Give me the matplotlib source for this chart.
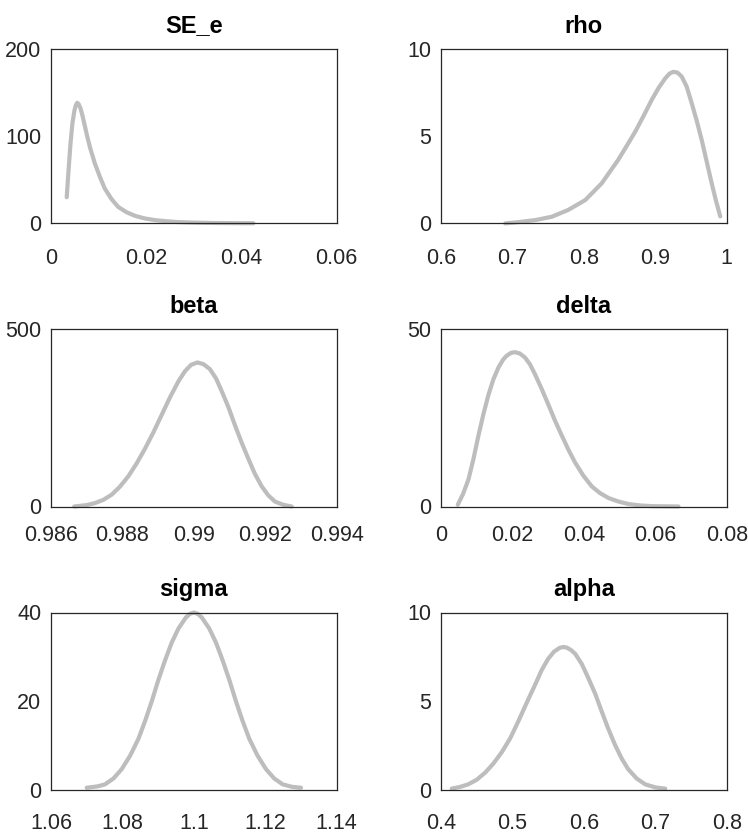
import matplotlib
matplotlib.use("Agg")
import matplotlib.pyplot as plt
from matplotlib import font_manager

# Pick a condensed sans face if one is installed
available = {f.name for f in font_manager.fontManager.ttflist}
family = [f for f in ["Liberation Sans Narrow", "Liberation Sans", "DejaVu Sans"] if f in available]
plt.rcParams["font.family"] = family

# ---- prior densities (x, density) ----
se_e_x = [0.0033, 0.0037, 0.0041, 0.0045, 0.0049, 0.0052, 0.0055, 0.0058, 0.0062, 0.0066,
          0.0071, 0.0076, 0.0082, 0.0092, 0.0103, 0.0113, 0.0127, 0.0141, 0.0158, 0.0176,
          0.0196, 0.0218, 0.0242, 0.0267, 0.0300, 0.0337, 0.0380, 0.0425]
se_e_y = [30.0, 62.0, 92.0, 115.0, 129.0, 135.5, 138.5, 137.0, 132.0, 124.0,
          112.0, 100.0, 87.0, 69.0, 53.0, 40.0, 28.0, 19.0, 13.0, 8.8,
          5.8, 3.8, 2.5, 1.5, 0.9, 0.5, 0.3, 0.2]

rho_x = [0.690, 0.710, 0.732, 0.755, 0.778, 0.802, 0.825, 0.848, 0.860, 0.872,
         0.884, 0.895, 0.905, 0.914, 0.920, 0.925, 0.931, 0.937, 0.944, 0.951,
         0.958, 0.965, 0.972, 0.979, 0.985, 0.991]
rho_y = [0.00, 0.08, 0.19, 0.38, 0.77, 1.34, 2.30, 3.64, 4.45, 5.27,
         6.20, 7.09, 7.80, 8.33, 8.60, 8.70, 8.66, 8.43, 7.85, 6.90,
         5.90, 4.79, 3.55, 2.30, 1.30, 0.40]

beta_x = [0.98665, 0.98700, 0.98723, 0.98747, 0.98770, 0.98793, 0.98817, 0.98840, 0.98863,
          0.98887, 0.98910, 0.98933, 0.98957, 0.98975, 0.98992, 0.99010, 0.99027, 0.99045,
          0.99062, 0.99078, 0.99097, 0.99115, 0.99134, 0.99153, 0.99171, 0.99190, 0.99208,
          0.99227, 0.99250, 0.99274]
beta_y = [0.0, 4.0, 9.6, 19.0, 33.5, 56.0, 86.0, 122.0, 163.0,
          210.0, 259.0, 308.0, 354.0, 382.0, 400.0, 407.0, 402.0, 388.0,
          362.0, 326.0, 280.0, 230.0, 180.0, 134.0, 92.0, 57.0, 32.0,
          14.0, 5.0, 0.0]

delta_x = [0.0047, 0.0062, 0.0077, 0.0091, 0.0105, 0.0119, 0.0133, 0.0147, 0.0161, 0.0174,
           0.0184, 0.0196, 0.0207, 0.0221, 0.0235, 0.0249, 0.0263, 0.0282, 0.0301, 0.0319,
           0.0338, 0.0357, 0.0375, 0.0398, 0.0422, 0.0445, 0.0469, 0.0497, 0.0525, 0.0558,
           0.0590, 0.0630, 0.0665]
delta_y = [0.5, 3.6, 7.7, 13.5, 20.1, 26.2, 31.6, 36.0, 39.3, 41.5,
           42.6, 43.4, 43.6, 43.2, 42.1, 40.2, 37.4, 33.2, 28.7, 24.3,
           20.1, 16.0, 12.5, 8.8, 5.7, 3.8, 2.4, 1.4, 0.7, 0.3,
           0.1, 0.05, 0.0]

sigma_x = [1.0700, 1.0730, 1.0751, 1.0775, 1.0798, 1.0822, 1.0845, 1.0864, 1.0882, 1.0900,
           1.0919, 1.0938, 1.0957, 1.0978, 1.0989, 1.1000, 1.1011, 1.1022, 1.1043, 1.1062,
           1.1081, 1.1100, 1.1118, 1.1136, 1.1155, 1.1178, 1.1202, 1.1225, 1.1249, 1.1275,
           1.1300]
sigma_y = [0.4, 0.7, 1.15, 2.5, 4.6, 7.7, 11.5, 15.6, 19.9, 24.6,
           29.1, 33.2, 36.4, 38.9, 39.7, 40.0, 39.7, 38.9, 36.4, 33.2,
           29.1, 24.6, 19.9, 15.6, 11.5, 7.7, 4.6, 2.5, 1.15, 0.6,
           0.4]

alpha_x = [0.415, 0.427, 0.438, 0.450, 0.462, 0.473, 0.485, 0.497, 0.508, 0.520,
           0.532, 0.541, 0.550, 0.558, 0.566, 0.571, 0.576, 0.582, 0.588, 0.597,
           0.606, 0.616, 0.625, 0.634, 0.644, 0.653, 0.662, 0.674, 0.686, 0.700,
           0.714]
alpha_y = [0.05, 0.15, 0.29, 0.55, 0.96, 1.45, 2.10, 2.90, 3.83, 4.90,
           5.94, 6.75, 7.38, 7.78, 8.00, 8.05, 8.02, 7.88, 7.66, 7.10,
           6.32, 5.40, 4.41, 3.45, 2.49, 1.75, 1.15, 0.62, 0.29, 0.12,
           0.05]

titles = ["SE_e", "rho", "beta", "delta", "sigma", "alpha"]
series = [(se_e_x, se_e_y), (rho_x, rho_y), (beta_x, beta_y),
          (delta_x, delta_y), (sigma_x, sigma_y), (alpha_x, alpha_y)]

x_limits = [(0, 0.06), (0.6, 1.0), (0.986, 0.994), (0, 0.08), (1.06, 1.14), (0.4, 0.8)]
y_limits = [(0, 200), (0, 10), (0, 500), (0, 50), (0, 40), (0, 10)]

x_ticks = [[0, 0.02, 0.04, 0.06],
           [0.6, 0.7, 0.8, 0.9, 1.0],
           [0.986, 0.988, 0.990, 0.992, 0.994],
           [0, 0.02, 0.04, 0.06, 0.08],
           [1.06, 1.08, 1.10, 1.12, 1.14],
           [0.4, 0.5, 0.6, 0.7, 0.8]]
x_tick_labels = [["0", "0.02", "0.04", "0.06"],
                 ["0.6", "0.7", "0.8", "0.9", "1"],
                 ["0.986", "0.988", "0.99", "0.992", "0.994"],
                 ["0", "0.02", "0.04", "0.06", "0.08"],
                 ["1.06", "1.08", "1.1", "1.12", "1.14"],
                 ["0.4", "0.5", "0.6", "0.7", "0.8"]]
y_ticks = [[0, 100, 200], [0, 5, 10], [0, 500], [0, 50], [0, 20, 40], [0, 5, 10]]
y_tick_labels = [["0", "100", "200"], ["0", "5", "10"], ["0", "500"],
                 ["0", "50"], ["0", "20", "40"], ["0", "5", "10"]]

# ---- layout (figure fractions) ----
W, H = 748, 840
col_left = [51 / W, 441 / W]
col_width = 285.7 / W
row_bottom = [1 - 223.4 / H, 1 - 506.5 / H, 1 - 789.5 / H]
row_height = [174.2 / H, 177.0 / H, 177.0 / H]
x_pad = [17.5, 13.0, 17.0]

line_color = "#bdbdbd"
axis_color = "#262626"

fig = plt.figure(figsize=(W / 100, H / 100), dpi=100)
fig.patch.set_facecolor("white")

for i, title in enumerate(titles):
    r, c = divmod(i, 2)
    ax = fig.add_axes([col_left[c], row_bottom[r], col_width, row_height[r]])
    xs, ys = series[i]
    ax.plot(xs, ys, color=line_color, lw=3.0, solid_capstyle="round",
            solid_joinstyle="round", clip_on=False)
    ax.set_xlim(*x_limits[i])
    ax.set_ylim(*y_limits[i])
    ax.set_xticks(x_ticks[i])
    ax.set_xticklabels(x_tick_labels[i])
    ax.set_yticks(y_ticks[i])
    ax.set_yticklabels(y_tick_labels[i])
    ax.tick_params(axis="both", length=0, labelsize=15.5, colors=axis_color)
    ax.tick_params(axis="x", pad=x_pad[r])
    ax.tick_params(axis="y", pad=7)
    for sp in ax.spines.values():
        sp.set_color(axis_color)
        sp.set_linewidth(0.9)
    ax.set_title(title, fontsize=17, fontweight="bold", color="black", pad=12)

fig.savefig("out.png", dpi=100, facecolor="white")
